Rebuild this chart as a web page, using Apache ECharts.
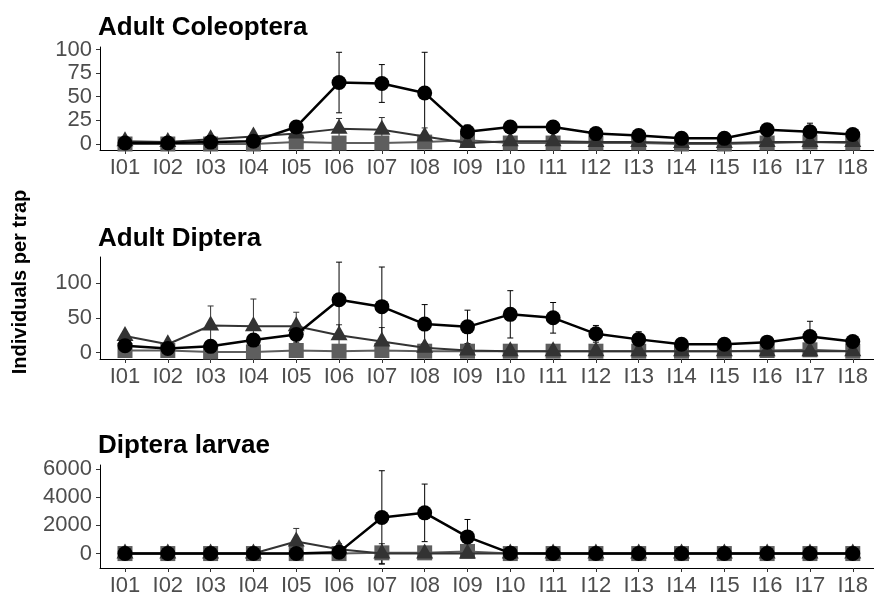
<!DOCTYPE html>
<html><head><meta charset="utf-8">
<script src="https://cdn.jsdelivr.net/npm/echarts@6/dist/echarts.min.js"></script>
<style>html,body{margin:0;padding:0;background:#fff}#c{width:874px;height:597px}</style>
</head><body><div id="c"></div>
<script>
const categories = ['I01','I02','I03','I04','I05','I06','I07','I08','I09','I10','I11','I12','I13','I14','I15','I16','I17','I18'];
const panelTitles = ['Adult Coleoptera','Adult Diptera','Diptera larvae'];
const yTitle = 'Individuals per trap';
const yTicks1 = [0,25,50,75,100];
const yTicks2 = [0,50,100];
const yTicks3 = [0,2000,4000,6000];

// Adult Coleoptera
const colCircle     = [1,1,2,3,18,65,64,54,13,18,18,11,9,6,6,15,13,10];
const colCircleSE   = [1,1,1,1,5,32,20,43,7,3,3,2,2,1,1,3,9,3];
const colTriangle   = [3,2,5,8,11,16,15,8,1,3,3,2,2,1,1,2,2,2];
const colTriangleSE = [2,1,2,3,5,11,13,9,1,1,1,1,1,1,1,1,1,1];
const colSquare     = [0,0,0,0,2,1,1,2,4,1,1,1,1,0,0,1,2,1];
const colSquareSE   = [1,1,1,1,2,1,1,2,2,1,1,1,1,1,1,1,1,1];

// Adult Diptera
const dipCircle     = [10,6,9,18,26,76,66,41,37,55,50,27,19,12,12,15,23,16];
const dipCircleSE   = [4,3,3,5,12,54,57,28,24,34,22,12,11,3,3,4,22,4];
const dipTriangle   = [24,12,39,38,38,25,16,7,3,2,2,2,2,2,2,2,2,2];
const dipTriangleSE = [6,4,28,39,20,15,20,6,4,1,1,1,1,1,1,1,1,1];
const dipSquare     = [3,3,1,1,3,2,3,2,2,2,2,2,2,2,2,3,4,2];
const dipSquareSE   = [2,2,1,1,2,2,2,1,1,1,1,1,1,1,1,2,3,1];

// Diptera larvae
const larCircle     = [0,0,0,0,0,100,2560,2885,1180,30,0,0,0,0,0,0,0,0];
const larCircleSE   = [20,20,20,20,50,60,3310,2040,1236,40,20,20,20,20,20,20,20,20];
const larTriangle   = [0,0,0,0,850,300,0,0,0,0,0,0,0,0,0,0,0,0];
const larTriangleSE = [20,20,20,40,930,400,700,20,20,20,20,20,20,20,20,20,20,20];
const larSquare     = [0,0,0,0,0,0,50,50,150,0,0,0,0,0,0,0,0,0];
const larSquareSE   = [10,10,10,10,10,10,100,100,200,10,10,10,10,10,10,10,10,10];

const FONT = '"Liberation Sans", Arial, sans-serif';
const panels = [
  {title: panelTitles[0], ticks: yTicks1, min: -6.35, max: 102.6, top: 47, height: 103, titleTop: 15,
   groups: [[colSquare, colSquareSE], [colTriangle, colTriangleSE], [colCircle, colCircleSE]]},
  {title: panelTitles[1], ticks: yTicks2, min: -9.2, max: 137.4, top: 257, height: 102, titleTop: 226,
   groups: [[dipSquare, dipSquareSE], [dipTriangle, dipTriangleSE], [dipCircle, dipCircleSE]]},
  {title: panelTitles[2], ticks: yTicks3, min: -1023, max: 6276, top: 465, height: 103, titleTop: 433,
   groups: [[larSquare, larSquareSE], [larTriangle, larTriangleSE], [larCircle, larCircleSE]]}
];
const styles = [
  {symbol: 'rect', size: 15, color: '#5e5e5e', lw: 2, offset: [0, 0]},
  {symbol: 'triangle', size: [17, 15], color: '#333333', lw: 2, offset: [0, -2.5]},
  {symbol: 'circle', size: 15, color: '#000000', lw: 2.5, offset: [0, 0]}
];
const idx = categories.map((c, i) => i);

function errRender(color) {
  return function (params, api) {
    const x = api.value(0), y = api.value(1), e = api.value(2);
    const lo = api.coord([x, y - e]), hi = api.coord([x, y + e]);
    const hw = 3;
    const st = {stroke: color, lineWidth: 1};
    return {type: 'group', children: [
      {type: 'line', shape: {x1: lo[0], y1: lo[1], x2: hi[0], y2: hi[1]}, style: st},
      {type: 'line', shape: {x1: hi[0] - hw, y1: hi[1], x2: hi[0] + hw, y2: hi[1]}, style: st},
      {type: 'line', shape: {x1: lo[0] - hw, y1: lo[1], x2: lo[0] + hw, y2: lo[1]}, style: st}
    ]};
  };
}

const grid = [], xAxis = [], yAxis = [], series = [], title = [];
panels.forEach((p, pi) => {
  grid.push({left: 100, right: 0, top: p.top, height: p.height});
  title.push({text: p.title, left: 98, top: p.titleTop, padding: 0,
    textStyle: {fontFamily: FONT, fontSize: 26, fontWeight: 'bold', color: '#000'}});
  xAxis.push({type: 'value', gridIndex: pi, min: -0.584, max: 17.496,
    splitLine: {show: false},
    axisLine: {show: true, onZero: false, lineStyle: {color: '#000', width: 1}},
    axisTick: {show: true, customValues: idx, length: 4, lineStyle: {color: '#333'}},
    axisLabel: {customValues: idx, formatter: v => categories[Math.round(v)], fontSize: 22,
      color: '#4d4d4d', margin: 7, fontFamily: FONT}});
  yAxis.push({type: 'value', gridIndex: pi, min: p.min, max: p.max,
    splitLine: {show: false},
    axisLine: {show: true, onZero: false, lineStyle: {color: '#000', width: 1}},
    axisTick: {show: true, customValues: p.ticks, length: 4, lineStyle: {color: '#333'}},
    axisLabel: {customValues: p.ticks, formatter: v => String(Math.round(v)), fontSize: 22,
      color: '#4d4d4d', margin: 8, fontFamily: FONT}});
  p.groups.forEach((g, gi) => {
    const s = styles[gi];
    series.push({type: 'custom', xAxisIndex: pi, yAxisIndex: pi, z: 1,
      renderItem: errRender(s.color), encode: {x: 0, y: 1},
      data: idx.map(i => [i, g[0][i], g[1][i]]), silent: true});
  });
  p.groups.forEach((g, gi) => {
    const s = styles[gi];
    series.push({type: 'line', xAxisIndex: pi, yAxisIndex: pi, z: 2 + gi,
      data: idx.map(i => [i, g[0][i]]),
      symbol: s.symbol, symbolSize: s.size, symbolOffset: s.offset, showSymbol: true,
      itemStyle: {color: s.color, opacity: 1},
      lineStyle: {color: s.color, width: s.lw}});
  });
});

const chart = echarts.init(document.getElementById('c'), null, {renderer: 'canvas'});
chart.setOption({
  animation: false,
  backgroundColor: '#fff',
  title, grid, xAxis, yAxis, series,
  graphic: [{type: 'text', x: 20, y: 282, rotation: Math.PI / 2,
    style: {text: yTitle, fontFamily: FONT, fontSize: 20, fontWeight: 'bold', fill: '#000',
      align: 'center', verticalAlign: 'middle'}}]
});
</script></body></html>
